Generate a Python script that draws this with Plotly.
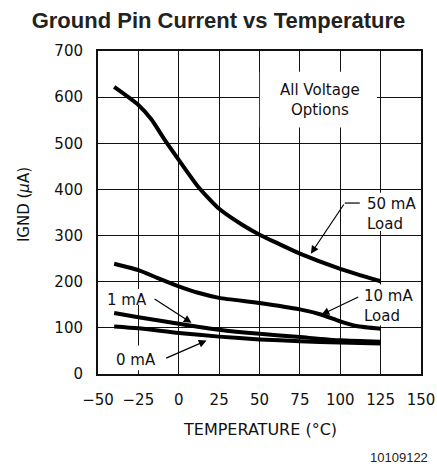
import plotly.graph_objects as go

# ---- data ----
temp_50mA = [-40, -25, -17, -9, 0, 12, 25, 39, 50, 62, 75, 100, 125]
ignd_50mA = [622, 583, 552, 509, 464, 406, 358, 324, 302, 282, 261, 228, 201]

temp_10mA = [-40, -25, -13, 0, 12, 25, 50, 75, 88, 100, 110, 125]
ignd_10mA = [239, 225, 208, 190, 176, 165, 154, 140, 129, 114, 104, 98]

temp_1mA = [-40, -25, 0, 25, 50, 75, 100, 125]
ignd_1mA = [132, 123, 109, 96, 87, 80, 73, 70]

temp_0mA = [-40, -25, 0, 25, 50, 75, 100, 125]
ignd_0mA = [103, 99, 89, 81, 75, 71, 68, 66]

x_ticks = [-50, -25, 0, 25, 50, 75, 100, 125, 150]
y_ticks = [0, 100, 200, 300, 400, 500, 600, 700]

TICK_FONT = dict(family="DejaVu Sans", size=15, color="#111")

fig = go.Figure()
for xs, ys in [(temp_50mA, ignd_50mA), (temp_10mA, ignd_10mA),
               (temp_1mA, ignd_1mA), (temp_0mA, ignd_0mA)]:
    fig.add_trace(go.Scatter(x=xs, y=ys, mode="lines",
                             line=dict(color="black", width=4, shape="spline", smoothing=0.6),
                             showlegend=False, hoverinfo="skip"))

# white boxes behind labels (between grid and traces)
boxes = [(50.2, 122.7, 534, 655), (113.3, 148.5, 310, 393), (110.9, 148.5, 105, 194),
         (-45.8, -18, 150, 184), (-40.8, -11.8, 8, 62)]
for x0, x1, y0, y1 in boxes:
    fig.add_shape(type="rect", xref="x", yref="y", x0=x0, x1=x1, y0=y0, y1=y1,
                  fillcolor="white", line=dict(width=0), layer="between")

LBL_FONT = dict(family="DejaVu Sans", size=15, color="#111")

fig.add_annotation(x=87.7, y=593, text="All Voltage<br>Options", showarrow=False, font=LBL_FONT)
fig.add_annotation(x=115.2, y=347, text="50 mA<br>Load", showarrow=False, font=LBL_FONT,
                   xanchor="left", align="left")
fig.add_annotation(x=113.4, y=147, text="10 mA<br>Load", showarrow=False, font=LBL_FONT,
                   xanchor="left", align="left")
fig.add_annotation(x=-31.9, y=161, text="1 mA", showarrow=False, font=LBL_FONT)
fig.add_annotation(x=-26.2, y=31, text="0 mA", showarrow=False, font=LBL_FONT)

# leader lines / arrows
fig.add_shape(type="line", xref="x", yref="y", x0=102.8, x1=112.1, y0=370.5, y1=370.5,
              line=dict(color="black", width=1.2))
arrows = [((102.8, 370.5), (81.8, 260.8)),
          ((112.1, 168.4), (88.4, 128.8)),
          ((-15.9, 164.9), (7.9, 110.8)),
          ((-8.7, 32.9), (17.2, 72.5))]
for (ax_, ay_), (x_, y_) in arrows:
    fig.add_annotation(x=x_, y=y_, ax=ax_, ay=ay_, axref="x", ayref="y", xref="x", yref="y",
                       text="", showarrow=True, arrowhead=2, arrowsize=1.3, arrowwidth=1.2,
                       arrowcolor="black", standoff=0, startstandoff=0)

fig.add_annotation(xref="paper", yref="paper", x=-0.229, y=0.523, text="IGND (<i>μ</i>A)",
                   xanchor="center", yanchor="middle",
                   textangle=-90, showarrow=False, font=dict(family="DejaVu Sans", size=15, color="#111"))
fig.add_annotation(xref="paper", yref="paper", x=0.5, y=-0.173, text="TEMPERATURE (°C)",
                   xanchor="center", yanchor="middle",
                   showarrow=False, font=dict(family="DejaVu Sans", size=16, color="#111"))
fig.add_annotation(xref="paper", yref="paper", x=1.028, y=-0.26, xanchor="right", yanchor="middle",
                   text="10109122", showarrow=False,
                   font=dict(family="Liberation Sans", size=13, color="#222"))

fig.update_layout(
    width=437, height=470,
    margin=dict(l=98, r=16, t=51, b=96, autoexpand=False),
    plot_bgcolor="white", paper_bgcolor="white",
    title=dict(text="<b>Ground Pin Current vs Temperature</b>", x=0.5, xanchor="center",
               y=1 - 20 / 470, yanchor="middle", yref="container",
               font=dict(family="Liberation Sans", size=22, color="#222")),
)
fig.update_xaxes(range=[-50, 150], tickvals=x_ticks, ticktext=[str(v).replace("-", "−") for v in x_ticks],
                 showgrid=True, gridcolor="#111", gridwidth=1, zeroline=False,
                 showline=True, linecolor="#111", linewidth=2, mirror=True,
                 ticks="", tickfont=TICK_FONT, ticklabelstandoff=11, automargin=False)
fig.update_yaxes(range=[0, 700], tickvals=y_ticks,
                 showgrid=True, gridcolor="#111", gridwidth=1, zeroline=False,
                 showline=True, linecolor="#111", linewidth=2, mirror=True,
                 ticks="", tickfont=TICK_FONT, ticklabelstandoff=10, automargin=False)

fig.write_html("out.html", config={"displayModeBar": False},
               post_script="document.body.style.margin='0px';document.body.style.overflow='hidden';")
